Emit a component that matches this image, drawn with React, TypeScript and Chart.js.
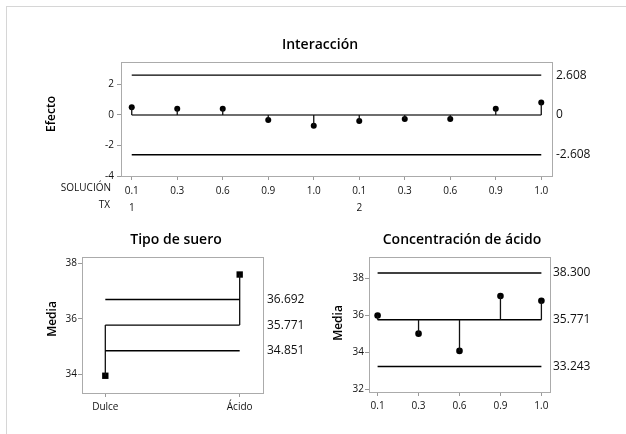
import React, { useEffect, useRef } from 'react';
import { Chart, registerables } from 'chart.js';

Chart.register(...registerables);

// ---------- data ----------
const solucion = ['0.1', '0.3', '0.6', '0.9', '1.0', '0.1', '0.3', '0.6', '0.9', '1.0'];
const txLabels = ['1', '', '', '', '', '2', '', '', '', ''];
const efecto = [0.5, 0.41, 0.41, -0.33, -0.7, -0.39, -0.26, -0.26, 0.41, 0.81];
const efectoCenter = 0;
const efectoLimits = [2.608, -2.608];
const efectoRightLabels = ['2.608', '0', '-2.608'];
const efectoTicks = [-4, -2, 0, 2];

const tipoSuero = ['Dulce', 'Ácido'];
const tipoMedia = [33.95, 37.59];
const tipoCenter = 35.771;
const tipoLimits = [36.692, 34.851];
const tipoRightLabels = ['36.692', '35.771', '34.851'];
const tipoTicks = [34, 36, 38];

const concAcido = ['0.1', '0.3', '0.6', '0.9', '1.0'];
const concMedia = [36.0, 35.02, 34.09, 37.05, 36.8];
const concCenter = 35.771;
const concLimits = [38.3, 33.243];
const concRightLabels = ['38.300', '35.771', '33.243'];
const concTicks = [32, 34, 36, 38];

const FONT = '"Open Sans", "Noto Sans", sans-serif';
const TEXT = '#111111';

type Spec = {
  labels: string[];
  rows2?: string[];
  values: number[];
  center: number;
  limits: number[];
  rightLabels: string[];
  yMin: number;
  yMax: number;
  yTicks: number[];
  xPad: number;
  padding: { left: number; top: number; right: number; bottom: number };
  yAxisWidth: number;
  xAxisHeight: number;
  xTickPadding: number;
  yTickPadding: number;
  title: string;
  titleX: number;
  titleY: number;
  yTitle: string;
  yTitleX: number;
  yTitleY: number;
  rightX: number;
  pointStyle: string;
  pointRadius: number;
  centerColor: string;
  centerWidth: number;
  rowNames?: { text: string; x: number; y: number }[];
};

function makeChart(canvas: HTMLCanvasElement, s: Spec) {
  const n = s.labels.length;
  const hline = (y: number) => [
    { x: 0, y },
    { x: n - 1, y },
  ];
  const stems: any[] = [];
  s.values.forEach((v, i) => {
    stems.push({ x: i, y: s.center }, { x: i, y: v }, { x: i, y: null });
  });
  const pts = s.values.map((v, i) => ({ x: i, y: v }));
  const datasets: any[] = [
    ...s.limits.map((L) => ({
      data: hline(L),
      borderColor: '#000',
      borderWidth: 1.4,
      pointRadius: 0,
    })),
    {
      data: stems,
      borderColor: '#111',
      borderWidth: 1.3,
      pointRadius: 0,
      spanGaps: false,
    },
    {
      data: hline(s.center),
      borderColor: s.centerColor,
      borderWidth: s.centerWidth,
      pointRadius: 0,
    },
    {
      data: pts,
      showLine: false,
      pointStyle: s.pointStyle,
      pointRadius: s.pointRadius,
      pointBackgroundColor: '#000',
      pointBorderColor: '#000',
      pointBorderWidth: 0,
    },
  ];

  const deco = {
    id: 'deco',
    beforeDatasetsDraw(chart: any) {
      const { ctx, chartArea } = chart;
      ctx.save();
      ctx.strokeStyle = '#ababab';
      ctx.lineWidth = 1;
      ctx.strokeRect(
        Math.round(chartArea.left) + 0.5,
        Math.round(chartArea.top) + 0.5,
        Math.round(chartArea.right - chartArea.left),
        Math.round(chartArea.bottom - chartArea.top)
      );
      ctx.restore();
    },
    afterDraw(chart: any) {
      const { ctx } = chart;
      const yScale = chart.scales.y;
      ctx.save();
      ctx.fillStyle = '#000';
      ctx.textAlign = 'center';
      ctx.textBaseline = 'middle';
      ctx.font = `600 14px ${FONT}`;
      ctx.fillText(s.title, s.titleX, s.titleY);
      // y title
      ctx.save();
      ctx.translate(s.yTitleX, s.yTitleY);
      ctx.rotate(-Math.PI / 2);
      ctx.font = `600 12px ${FONT}`;
      ctx.fillText(s.yTitle, 0, 0);
      ctx.restore();
      // right labels
      ctx.font = `12px ${FONT}`;
      ctx.fillStyle = TEXT;
      ctx.textAlign = 'left';
      const vals = [s.limits[0], s.center, s.limits[1]];
      vals.forEach((v, i) => {
        ctx.fillText(s.rightLabels[i], s.rightX, yScale.getPixelForValue(v));
      });
      // row names
      if (s.rowNames) {
        ctx.font = `10px ${FONT}`;
        ctx.textAlign = 'right';
        s.rowNames.forEach((r) => ctx.fillText(r.text, r.x, r.y));
      }
      ctx.restore();
    },
  };

  return new Chart(canvas, {
    type: 'line',
    data: { datasets },
    options: {
      animation: false,
      responsive: false,
      devicePixelRatio: 1,
      events: [],
      layout: { padding: s.padding },
      plugins: {
        legend: { display: false },
        tooltip: { enabled: false },
        title: { display: false },
      },
      scales: {
        x: {
          type: 'linear',
          min: -s.xPad,
          max: n - 1 + s.xPad,
          afterBuildTicks: (sc: any) => {
            sc.ticks = s.labels.map((_, i) => ({ value: i }));
          },
          afterFit: (sc: any) => {
            sc.height = s.xAxisHeight;
          },
          ticks: {
            autoSkip: false,
            maxRotation: 0,
            padding: s.xTickPadding,
            color: TEXT,
            font: { family: FONT, size: 10, lineHeight: 1.7 },
            callback: (_v: any, i: number) =>
              s.rows2 ? [s.labels[i], s.rows2[i]] : s.labels[i],
          },
          grid: { drawOnChartArea: false, tickLength: 4, color: '#9a9a9a' },
          border: { display: false },
        },
        y: {
          type: 'linear',
          min: s.yMin,
          max: s.yMax,
          afterBuildTicks: (sc: any) => {
            sc.ticks = s.yTicks.map((v) => ({ value: v }));
          },
          afterFit: (sc: any) => {
            sc.width = s.yAxisWidth;
          },
          ticks: {
            padding: s.yTickPadding,
            color: TEXT,
            font: { family: FONT, size: 10 },
            callback: (v: any) => String(v),
          },
          grid: { drawOnChartArea: false, tickLength: 4, color: '#9a9a9a' },
          border: { display: false },
        },
      },
    } as any,
    plugins: [deco],
  } as any);
}

const specs: Spec[] = [
  {
    labels: solucion,
    rows2: txLabels,
    values: efecto,
    center: efectoCenter,
    limits: efectoLimits,
    rightLabels: efectoRightLabels,
    yMin: -4,
    yMax: 3.47,
    yTicks: efectoTicks,
    xPad: 0.236,
    padding: { left: 61, top: 62, right: 74, bottom: 218 },
    yAxisWidth: 60,
    xAxisHeight: 40,
    xTickPadding: 3,
    yTickPadding: 3,
    title: 'Interacción',
    titleX: 320,
    titleY: 45,
    yTitle: 'Efecto',
    yTitleX: 52,
    yTitleY: 114,
    rightX: 556,
    pointStyle: 'circle',
    pointRadius: 3,
    centerColor: '#6e6e6e',
    centerWidth: 2,
    rowNames: [
      { text: 'SOLUCIÓN', x: 111, y: 188 },
      { text: 'TX', x: 110, y: 205 },
    ],
  },
  {
    labels: tipoSuero,
    values: tipoMedia,
    center: tipoCenter,
    limits: tipoLimits,
    rightLabels: tipoRightLabels,
    yMin: 33.33,
    yMax: 38.22,
    yTicks: tipoTicks,
    xPad: 0.1735,
    padding: { left: 52, top: 257, right: 363, bottom: 16 },
    yAxisWidth: 30,
    xAxisHeight: 25,
    xTickPadding: 2,
    yTickPadding: 1,
    title: 'Tipo de suero',
    titleX: 176,
    titleY: 240,
    yTitle: 'Media',
    yTitleX: 53,
    yTitleY: 319,
    rightX: 267,
    pointStyle: 'rect',
    pointRadius: 4.5,
    centerColor: '#000',
    centerWidth: 1.4,
  },
  {
    labels: concAcido,
    values: concMedia,
    center: concCenter,
    limits: concLimits,
    rightLabels: concRightLabels,
    yMin: 31.87,
    yMax: 39.16,
    yTicks: concTicks,
    xPad: 0.21,
    padding: { left: 339, top: 257, right: 76, bottom: 17 },
    yAxisWidth: 30,
    xAxisHeight: 25,
    xTickPadding: 2,
    yTickPadding: 1,
    title: 'Concentración de ácido',
    titleX: 462,
    titleY: 240,
    yTitle: 'Media',
    yTitleX: 339,
    yTitleY: 323,
    rightX: 553,
    pointStyle: 'circle',
    pointRadius: 3.3,
    centerColor: '#000',
    centerWidth: 1.4,
  },
];

function Panel({ spec }: { spec: Spec }) {
  const ref = useRef<HTMLCanvasElement>(null);
  useEffect(() => {
    if (!ref.current) return;
    const c = makeChart(ref.current, spec);
    return () => c.destroy();
  }, [spec]);
  return (
    <canvas
      ref={ref}
      width={626}
      height={434}
      style={{ position: 'absolute', left: 0, top: 0, width: 626, height: 434 }}
    />
  );
}

export default function App() {
  return (
    <div
      style={{
        position: 'absolute',
        left: 0,
        top: 0,
        width: 626,
        height: 434,
        overflow: 'hidden',
        background: '#fff',
      }}
    >
      <div
        style={{
          position: 'absolute',
          left: 6,
          top: 6,
          width: 620,
          height: 428,
          boxSizing: 'border-box',
          borderTop: '1px solid #d6d6d6',
          borderLeft: '1px solid #d6d6d6',
        }}
      />
      {specs.map((s, i) => (
        <Panel key={i} spec={s} />
      ))}
    </div>
  );
}
